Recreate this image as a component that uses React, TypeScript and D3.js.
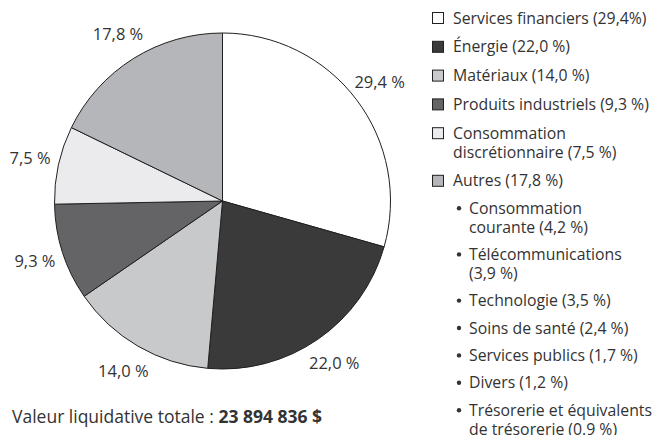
import React from "react";
import * as d3 from "d3";

const categories = [
  "Services financiers",
  "Énergie",
  "Matériaux",
  "Produits industriels",
  "Consommation discrétionnaire",
  "Autres",
];
const values = [29.4, 22.0, 14.0, 9.3, 7.5, 17.8];
const sliceLabels = ["29,4 %", "22,0 %", "14,0 %", "9,3 %", "7,5 %", "17,8 %"];
const colors = ["#ffffff", "#3a3a3b", "#c8c9cb", "#646466", "#ebebed", "#b5b6b9"];

const legendLines: string[][] = [
  ["Services financiers (29,4%)"],
  ["Énergie (22,0 %)"],
  ["Matériaux (14,0 %)"],
  ["Produits industriels (9,3 %)"],
  ["Consommation", "discrétionnaire (7,5 %)"],
  ["Autres (17,8 %)"],
];

const subLines: string[][] = [
  ["Consommation", "courante (4,2 %)"],
  ["Télécommunications", "(3,9 %)"],
  ["Technologie (3,5 %)"],
  ["Soins de santé (2,4 %)"],
  ["Services publics (1,7 %)"],
  ["Divers (1,2 %)"],
  ["Trésorerie et équivalents", "de trésorerie (0.9 %)"],
];

const totalLabel = "Valeur liquidative totale : ";
const totalValue = "23 894 836 $";

const W = 652;
const H = 435;
const FONT = "'Open Sans', sans-serif";
const TXT = "#333333";
const FS = 15.8;

export default function App() {
  const cx = 222.5;
  const cy = 201;
  const r = 168;
  const labelR = 197;

  const pie = d3.pie<number>().sort(null).value((d) => d);
  const arcs = pie(values);
  const arcGen = d3.arc<d3.PieArcDatum<number>>().innerRadius(0).outerRadius(r);
  const labelArc = d3
    .arc<d3.PieArcDatum<number>>()
    .innerRadius(labelR)
    .outerRadius(labelR);

  const legendX = 432;
  const textX = 453;
  const entryGap = 28.8;
  const lineH = 18.8;
  const subGap = 27.4;
  let y = 18;
  const legendItems: { lines: string[]; y: number; color: string }[] = [];
  legendLines.forEach((lines, i) => {
    legendItems.push({ lines, y, color: colors[i] });
    y += (lines.length - 1) * lineH + entryGap;
  });
  y = y - entryGap + subGap;
  const subItems: { lines: string[]; y: number }[] = [];
  subLines.forEach((lines) => {
    subItems.push({ lines, y });
    y += (lines.length - 1) * lineH + subGap;
  });

  const multiline = (lines: string[], x: number, y0: number) => (
    <text x={x} y={y0} fontSize={FS} fill={TXT}>
      {lines.map((l, j) => (
        <tspan key={j} x={x} dy={j === 0 ? "0.35em" : lineH}>
          {l}
        </tspan>
      ))}
    </text>
  );

  return (
    <svg
      width={W}
      height={H}
      style={{ position: "absolute", left: 0, top: 0, display: "block", background: "#fff" }}
      fontFamily={FONT}
    >
      <g transform={`translate(${cx},${cy})`}>
        {arcs.map((a, i) => (
          <path
            key={i}
            d={arcGen(a) || ""}
            fill={colors[i]}
            stroke="#231f20"
            strokeWidth={1}
            strokeLinejoin="round"
          />
        ))}
        {arcs.map((a, i) => {
          const [lx, ly] = labelArc.centroid(a);
          return (
            <text
              key={i}
              x={lx}
              y={ly}
              dy="0.35em"
              textAnchor="middle"
              fontSize={16.5}
              fill={TXT}
            >
              {sliceLabels[i]}
            </text>
          );
        })}
      </g>

      {legendItems.map((it, i) => (
        <g key={i}>
          <rect
            x={legendX + 0.5}
            y={it.y - 5.5}
            width={11}
            height={11}
            fill={it.color}
            stroke="#231f20"
            strokeWidth={1}
          />
          {multiline(it.lines, textX, it.y)}
        </g>
      ))}

      {subItems.map((it, i) => (
        <g key={i}>
          <circle cx={459} cy={it.y} r={2.2} fill={TXT} />
          {multiline(it.lines, 469, it.y)}
        </g>
      ))}

      <text x={12} y={417} dy="0.35em" fontSize={17.5} fill={TXT}>
        {totalLabel}
        <tspan fontWeight="bold">{totalValue}</tspan>
      </text>
    </svg>
  );
}
